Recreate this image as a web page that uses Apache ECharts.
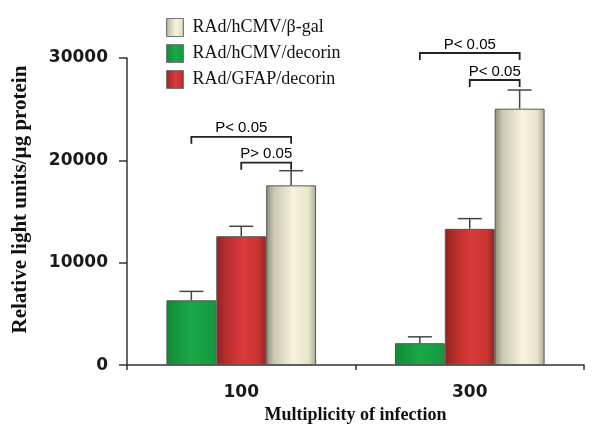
<!DOCTYPE html>
<html><head><meta charset="utf-8">
<script src="https://cdn.jsdelivr.net/npm/echarts@6/dist/echarts.min.js"></script>
<style>html,body{margin:0;padding:0;background:#fff}#c{width:600px;height:429px}</style>
</head><body><div id="c"></div>
<script>
var categories = ['100', '300'];
var seriesNames = ['RAd/hCMV/decorin', 'RAd/GFAP/decorin', 'RAd/hCMV/β-gal'];
var hcmvDecorin = [6330, 2140];
var hcmvDecorinErr = [7200, 2760];
var gfapDecorin = [12590, 13310];
var gfapDecorinErr = [13560, 14310];
var betaGal = [17560, 25050];
var betaGalErr = [18990, 26870];
var yTicks = [0, 10000, 20000, 30000];
// brackets: [category index, from bar, to bar, y value, label]
var brackets = [
  [0, -1, 1, 22300, 'P< 0.05'],
  [0, 0, 1, 19770, 'P> 0.05'],
  [1, -1, 1, 30490, 'P< 0.05'],
  [1, 0, 1, 27850, 'P< 0.05']
];

var GAP = 0.345;
var chart = echarts.init(document.getElementById('c'));
function grad(stops) {
  return new echarts.graphic.LinearGradient(0, 0, 1, 0, stops.map(function (s) { return { offset: s[0], color: s[1] }; }));
}
var colGreen = grad([[0, '#128a36'], [0.5, '#1aa848'], [1, '#15983e']]);
var colRed = grad([[0, '#8e2424'], [0.2, '#b82e2c'], [0.55, '#dc3a3c'], [0.85, '#c8342e'], [1, '#8e2626']]);
var colBeige = grad([[0, '#8c8c7c'], [0.15, '#c9c7b0'], [0.55, '#f8f3dc'], [0.85, '#e8e4cc'], [1, '#a9a796']]);

function barW(api) { return api.size([1, 0])[0] * (1 - GAP) / 3; }

function errSeries(means, tops, off) {
  return {
    type: 'custom', z: 5, silent: true,
    data: means.map(function (m, i) { return [i, tops[i], m]; }),
    renderItem: function (params, api) {
      var bw = barW(api);
      var pTop = api.coord([api.value(0), api.value(1)]);
      var pMid = api.coord([api.value(0), api.value(2)]);
      var x = pTop[0] + off * bw;
      var half = 12;
      return { type: 'group', children: [
        { type: 'line', shape: { x1: x, y1: pMid[1], x2: x, y2: pTop[1] }, style: { stroke: '#444', lineWidth: 1.5 } },
        { type: 'line', shape: { x1: x - half, y1: pTop[1], x2: x + half, y2: pTop[1] }, style: { stroke: '#444', lineWidth: 1.5 } }
      ] };
    }
  };
}

var option = {
  animation: false,
  backgroundColor: '#fff',
  grid: { left: 127, right: 16, top: 58, bottom: 63, containLabel: false },
  legend: {
    orient: 'vertical', left: 166, top: 18, padding: 0,
    itemWidth: 17, itemHeight: 18, itemGap: 7,
    data: ['RAd/hCMV/β-gal', 'RAd/hCMV/decorin', 'RAd/GFAP/decorin'],
    icon: 'rect',
    itemStyle: { borderColor: '#777', borderWidth: 1 },
    textStyle: { fontFamily: 'Liberation Serif', fontSize: 18, color: '#111', padding: [0, 0, 0, 4] }
  },
  xAxis: {
    type: 'category', data: categories,
    name: 'Multiplicity of infection', nameLocation: 'middle', nameGap: 36,
    nameTextStyle: { fontFamily: 'Liberation Serif', fontWeight: 'bold', fontSize: 18, color: '#111', verticalAlign: 'top' },
    axisLine: { lineStyle: { color: '#333', width: 1.5 } },
    axisTick: { show: true, length: 5, lineStyle: { color: '#333', width: 1.5 } },
    axisLabel: { margin: 19, fontFamily: 'DejaVu Sans', fontWeight: 'bold', fontSize: 17, color: '#1a1a1a' }
  },
  yAxis: {
    type: 'value', min: 0, max: 30000, interval: 10000,
    name: 'Relative light units/µg protein', nameLocation: 'middle', nameGap: 96,
    nameTextStyle: { fontFamily: 'Liberation Serif', fontWeight: 'bold', fontSize: 21, color: '#111', padding: [0, 0, 0, 24] },
    axisLine: { show: true, lineStyle: { color: '#333', width: 1.5 } },
    axisTick: { show: true, length: 8, lineStyle: { color: '#333', width: 1.5 } },
    splitLine: { show: false },
    axisLabel: { margin: 19, fontFamily: 'DejaVu Sans', fontWeight: 'bold', fontSize: 17, color: '#1a1a1a',
      formatter: function (v) { return yTicks.indexOf(v) >= 0 ? String(v) : ''; } }
  },
  series: [
    { name: seriesNames[0], type: 'bar', data: hcmvDecorin, barGap: '0%', barCategoryGap: (GAP * 100) + '%',
      itemStyle: { color: colGreen, borderColor: '#555', borderWidth: 1 } },
    { name: seriesNames[1], type: 'bar', data: gfapDecorin, barGap: '0%', barCategoryGap: (GAP * 100) + '%',
      itemStyle: { color: colRed, borderColor: '#555', borderWidth: 1 } },
    { name: seriesNames[2], type: 'bar', data: betaGal, barGap: '0%', barCategoryGap: (GAP * 100) + '%',
      itemStyle: { color: colBeige, borderColor: '#555', borderWidth: 1 } },
    errSeries(hcmvDecorin, hcmvDecorinErr, -1),
    errSeries(gfapDecorin, gfapDecorinErr, 0),
    errSeries(betaGal, betaGalErr, 1),
    {
      type: 'custom', z: 6, silent: true, clip: false,
      data: brackets.map(function (b) { return [b[0], b[1], b[2], b[3]]; }),
      renderItem: function (params, api) {
        var b = brackets[params.dataIndex];
        var bw = barW(api);
        var p = api.coord([b[0], b[3]]);
        var x1 = p[0] + b[1] * bw, x2 = p[0] + b[2] * bw, y = p[1];
        return { type: 'group', children: [
          { type: 'polyline', shape: { points: [[x1, y + 7], [x1, y], [x2, y], [x2, y + 7]] },
            style: { stroke: '#222', lineWidth: 1.8, fill: null } },
          { type: 'text', style: { x: (x1 + x2) / 2, y: y - 1, text: b[4], align: 'center', verticalAlign: 'bottom',
              fontFamily: 'Liberation Sans', fontSize: 15, fill: '#000' } }
        ] };
      }
    }
  ]
};
chart.setOption(option);
</script>
</body></html>
